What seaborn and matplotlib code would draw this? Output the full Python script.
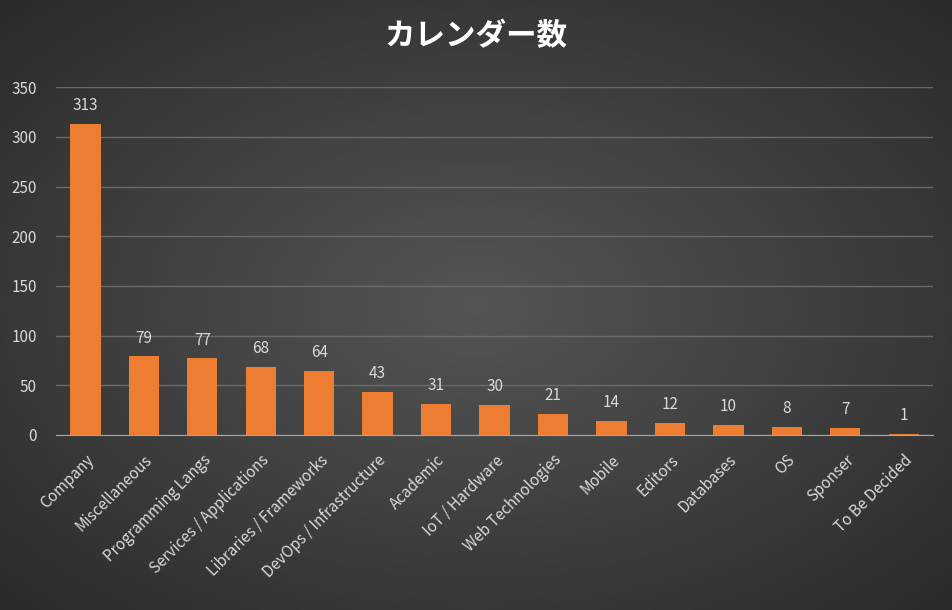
import matplotlib
matplotlib.use("Agg")
import matplotlib.pyplot as plt
import seaborn as sns
import numpy as np
import pandas as pd

categories = ["Company", "Miscellaneous", "Programming Langs", "Services / Applications",
              "Libraries / Frameworks", "DevOps / Infrastructure", "Academic", "IoT / Hardware",
              "Web Technologies", "Mobile", "Editors", "Databases", "OS", "Sponser", "To Be Decided"]
counts = [313, 79, 77, 68, 64, 43, 31, 30, 21, 14, 12, 10, 8, 7, 1]
yticks = [0, 50, 100, 150, 200, 250, 300, 350]

sns.set_style("dark")
plt.rcParams['font.family'] = ['Noto Sans CJK JP', 'DejaVu Sans']

fig = plt.figure(figsize=(9.52, 6.10), dpi=100)

# radial gradient background
bg = fig.add_axes([0, 0, 1, 1], zorder=-10)
yy, xx = np.mgrid[-1:1:300j, -1:1:480j]
r = np.sqrt(xx ** 2 + yy ** 2)
bg.imshow(r, cmap=matplotlib.colors.LinearSegmentedColormap.from_list("g", ["#555555", "#2b2b2b"]),
          vmin=0, vmax=1.4, aspect="auto", extent=[0, 1, 0, 1])
bg.axis("off")

ax = fig.add_axes([0.059, 0.287, 0.921, 0.570])
ax.set_facecolor("none")
df = pd.DataFrame({"category": categories, "count": counts})
sns.barplot(data=df, x="category", y="count", color="#ED7D31", saturation=1, width=0.52,
            linewidth=0, ax=ax)

ax.set_ylim(0, 350)
ax.set_yticks(yticks)
ax.set_yticklabels([str(t) for t in yticks], color="#d9d9d9", fontsize=11)
ax.set_xticks(range(len(categories)))
ax.set_xticklabels(categories, rotation=45, ha="right", rotation_mode="anchor", color="#d9d9d9", fontsize=11)
ax.tick_params(length=0)
ax.tick_params(axis="x", pad=12)
ax.tick_params(axis="y", pad=14)
ax.set_xlabel("")
ax.set_ylabel("")
ax.grid(axis="y", color="#6a6a6a", linewidth=1)
ax.grid(axis="x", visible=False)
ax.set_axisbelow(True)
for s in ["top", "right", "left"]:
    ax.spines[s].set_visible(False)
ax.spines["bottom"].set_color("#a6a6a6")

for i, v in enumerate(counts):
    ax.text(i, v + 10, str(v), ha="center", va="bottom", color="#d9d9d9", fontsize=11)

fig.text(0.5, 0.94, "カレンダー数", ha="center", va="center", color="white",
         fontsize=22, fontweight="bold")

fig.savefig("out.png", dpi=100)
